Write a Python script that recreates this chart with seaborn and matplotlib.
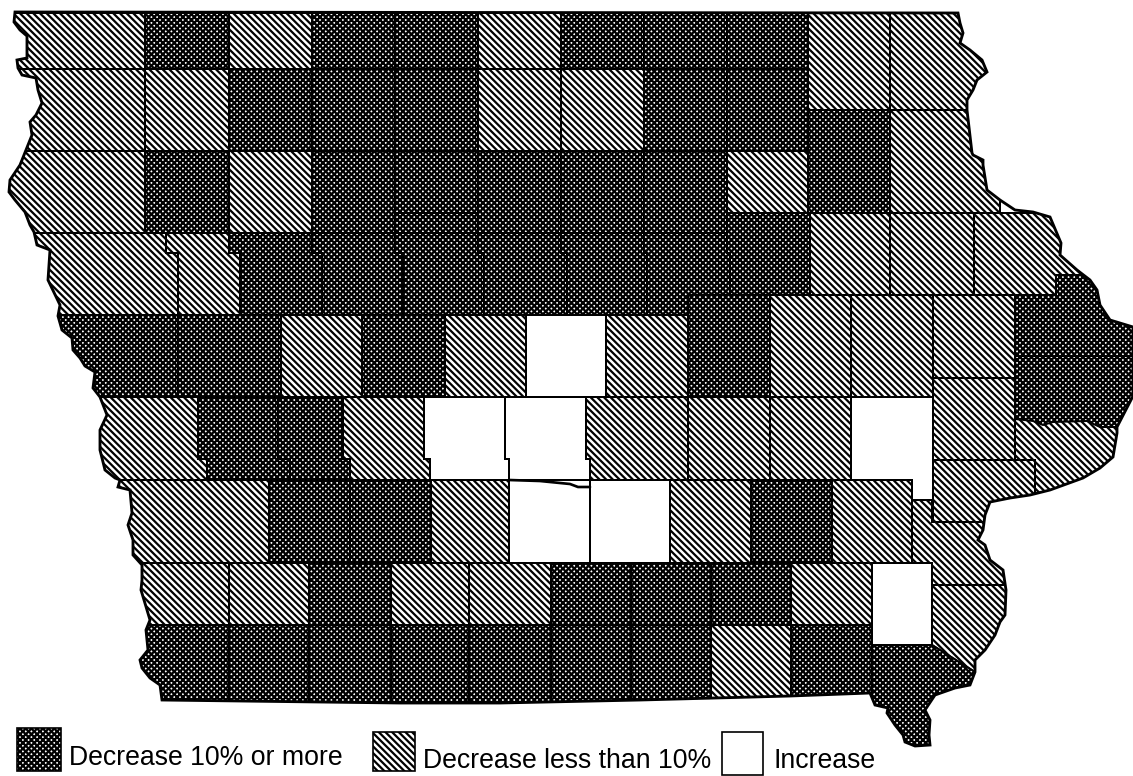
import seaborn as sns
import matplotlib.pyplot as plt
from matplotlib.patches import Polygon

sns.set_theme(style="white")
plt.rcParams['font.family'] = ['Liberation Sans', 'DejaVu Sans']
plt.rcParams['hatch.linewidth'] = 1.35

# state border, in picture pixels
outline_x = [15, 14, 20, 27, 27, 17, 18, 22, 36, 38, 42, 36, 30, 32, 26, 20, 10, 9, 15, 25, 30, 34,
             37, 50, 48, 60, 58, 62, 72, 73, 80, 85, 95, 93, 100, 107, 100, 100, 105, 115, 120, 118,
             130, 132, 128, 133, 133, 142, 142, 141, 144, 150, 146, 148, 140, 142, 150, 160, 162,
             400, 500, 640, 790, 870, 875, 888, 887, 895, 903, 905, 915, 930, 929, 930, 925, 935,
             955, 970, 975, 975, 985, 995, 1000, 1005, 1006, 1003, 990, 985, 978, 983, 985, 990,
             1010, 1030, 1050, 1083, 1100, 1113, 1117, 1117, 1133, 1133, 1110, 1100, 1097, 1090,
             1077, 1060, 1061, 1050, 1033, 1015, 1000, 987, 983, 983, 973, 972, 967, 967, 973, 977,
             987, 982, 970, 960, 963, 960, 958]
outline_y = [12, 22, 30, 36, 58, 60, 68, 75, 78, 90, 103, 115, 122, 135, 150, 165, 180, 192, 200, 212, 225, 232,
             245, 250, 280, 305, 316, 330, 338, 350, 358, 366, 372, 388, 397, 415, 430, 450, 470, 478, 480, 487,
             490, 513, 525, 540, 555, 565, 580, 590, 600, 620, 630, 650, 660, 668, 678, 685, 700,
             703, 703, 700, 696, 693, 705, 708, 713, 725, 735, 742, 746, 745, 735, 720, 710, 695,
             688, 685, 672, 660, 650, 635, 622, 615, 590, 570, 560, 545, 540, 530, 515, 502,
             498, 495, 490, 478, 468, 457, 433, 427, 396, 327, 320, 305, 290, 280,
             270, 255, 243, 217, 212, 210, 200, 190, 165, 160, 155, 153, 110, 100, 90, 80,
             72, 60, 50, 43, 33, 23, 13]

# D = decrease 10% or more, L = decrease less than 10%, W = increase
row_a_x = [0, 145, 229, 312, 395, 478, 561, 644, 727, 808]
row_a_cat = ['L', 'D', 'L', 'D', 'D', 'L', 'D', 'D', 'D']
row_a_east_x = [808, 890, 1000]
row_a_east_cat = ['L', 'L']
row_b_x = [0, 145, 229, 312, 395, 478, 561, 644, 727, 808]
row_b_cat = ['L', 'L', 'D', 'D', 'D', 'L', 'L', 'D', 'D']
row_b_east_x = [808, 890, 1000]
row_b_east_cat = ['D', 'L']
row_c_x = [0, 145, 229, 312, 395, 478, 561, 644, 727]
row_c_cat = ['L', 'D', 'L', 'D', 'D', 'D', 'D', 'D']
row_c_east_x = [727, 808]
row_c_east_cat = ['L']
row_c_strip_x = [395, 478]
row_c_strip_cat = ['D']
row_d_top_x = [0, 166, 229, 312, 395, 478, 561, 644, 727]
row_d_bot_x = [0, 178, 240, 322, 403, 484, 567, 647, 730]
row_d_cat = ['L', 'L', 'D', 'D', 'D', 'D', 'D', 'D']
row_d_mid_top_x = [727, 810]
row_d_mid_bot_x = [730, 810]
row_d_mid_cat = ['D']
row_d_east_x = [810, 890, 974, 1100]
row_d_east_cat = ['L', 'L', 'L']
row_e_x = [0, 178, 281, 362, 445, 526, 606, 688]
row_e_cat = ['D', 'D', 'L', 'D', 'L', 'W', 'L']
row_e_east_x = [688, 770, 851, 933]
row_e_east_cat = ['D', 'L', 'L']
row_f_top_x = [0, 198, 278, 343, 424, 505, 586, 688, 770, 851]
row_f_bot_x = [0, 207, 290, 350, 430, 509, 590, 688, 770, 851]
row_f_cat = ['L', 'D', 'D', 'L', 'W', 'W', 'L', 'L', 'L']
row_g_x = [0, 269, 350, 431, 509, 590, 670, 751, 832, 912]
row_g_cat = ['L', 'D', 'D', 'L', 'W', 'W', 'L', 'D', 'L']
row_h_x = [0, 229, 309, 391, 469, 551, 631, 711, 791, 872]
row_h_cat = ['L', 'L', 'D', 'L', 'L', 'D', 'D', 'D', 'L']
row_i_x = [0, 229, 309, 391, 469, 551, 631, 711, 791, 872]
row_i_cat = ['D', 'D', 'D', 'D', 'D', 'D', 'D', 'L', 'D']

# rivers that make the odd county borders
wapsi_x = [1015, 1033, 1043, 1053, 1087, 1100, 1117, 1140]
wapsi_y = [419, 421, 425, 422, 421, 427, 427, 427]
raccoon_x = [509, 540, 570, 578, 590]
raccoon_y = [480, 481, 484, 487, 487]
louisa_x = [912, 932, 932, 1010, 1010, 932, 932, 912]
louisa_y = [500, 500, 522, 522, 585, 585, 563, 563]
desmoines_x = [932, 1010, 1010, 975, 932]
desmoines_y = [585, 585, 672, 672, 645]
lee_x = [872, 932, 975, 1010, 1010, 872]
lee_y = [645, 645, 672, 672, 800, 800]

legend_labels = ['Decrease 10% or more', 'Decrease less than 10%', 'Increase']
legend_cat = ['D', 'L', 'W']
legend_box_x = [17, 373, 722]
legend_box_w = [44, 42, 41]
legend_box_y = [728, 732, 732]
legend_box_h = [43, 39, 43]
legend_text_x = [69, 423, 773]
legend_text_y = [765, 768, 768]

hatches = {'D': 'x' * 7, 'L': '\\' * 6, 'W': None}


def shape(ax, xs, ys, cat, clip=None, lw=1.2):
    p = Polygon(list(zip(xs, ys)), closed=True, facecolor='white', edgecolor='black',
                hatch=hatches[cat], linewidth=lw)
    ax.add_patch(p)
    if clip is not None:
        p.set_clip_path(clip)


def row(ax, top_x, bot_x, y0, jog, y1, cats, clip):
    for i, cat in enumerate(cats):
        xs = [top_x[i], top_x[i + 1], top_x[i + 1], bot_x[i + 1], bot_x[i + 1], bot_x[i], bot_x[i], top_x[i]]
        ys = [y0, y0, jog, jog, y1, y1, jog, jog]
        shape(ax, xs, ys, cat, clip)


fig = plt.figure(figsize=(1133 / 120, 776 / 120), dpi=120)
ax = fig.add_axes([0, 0, 1, 1])
ax.set_xlim(0, 1133)
ax.set_ylim(776, 0)
ax.axis('off')

state = Polygon(list(zip(outline_x, outline_y)), closed=True, facecolor='none', edgecolor='black',
                linewidth=1.7, zorder=5)
ax.add_patch(state)


def flat(xs, y0, y1, cats):
    row(ax, xs, xs, y0, y0, y1, cats, state)


flat(row_a_x, 13, 69, row_a_cat)
flat(row_a_east_x, 13, 110, row_a_east_cat)
flat(row_b_x, 69, 151, row_b_cat)
flat(row_b_east_x, 110, 213, row_b_east_cat)
flat(row_c_x, 151, 233, row_c_cat)
flat(row_c_east_x, 151, 213, row_c_east_cat)
flat(row_c_strip_x, 213, 233, row_c_strip_cat)
row(ax, row_d_top_x, row_d_bot_x, 233, 253, 315, row_d_cat, state)
row(ax, row_d_mid_top_x, row_d_mid_bot_x, 213, 253, 295, row_d_mid_cat, state)
flat(row_d_east_x, 213, 295, row_d_east_cat)
flat(row_e_x, 315, 397, row_e_cat)
flat(row_e_east_x, 295, 397, row_e_east_cat)
flat([933, 1015], 295, 378, ['L'])
flat([933, 1015], 378, 460, ['L'])

# Jones/Jackson corner and the Clinton strip under the river
row(ax, [1015, 1140], [1035, 1140], 400, 460, 540, ['L'], state)
row(ax, [1056, 1140], [1015, 1140], 275, 295, 356, ['D'], state)
shape(ax, [1015, 1140] + wapsi_x[::-1], [356, 356] + wapsi_y[::-1], 'D', state)

flat([851, 933], 397, 500, ['W'])
row(ax, row_f_top_x, row_f_bot_x, 397, 459, 480, row_f_cat, state)
flat(row_g_x, 480, 563, row_g_cat)
flat([933, 1035], 460, 522, ['L'])
shape(ax, louisa_x, louisa_y, 'L', state)
flat(row_h_x, 563, 625, row_h_cat)
flat(row_i_x, 625, 710, row_i_cat)
flat([872, 932], 563, 645, ['W'])
shape(ax, desmoines_x, desmoines_y, 'L', state)
shape(ax, lee_x, lee_y, 'D', state)
ax.plot(raccoon_x, raccoon_y, color='black', lw=1.6, zorder=4)

for i, label in enumerate(legend_labels):
    x0 = legend_box_x[i]
    y0 = legend_box_y[i]
    w = legend_box_w[i]
    h = legend_box_h[i]
    shape(ax, [x0, x0 + w, x0 + w, x0], [y0, y0, y0 + h, y0 + h], legend_cat[i], lw=1.0)
    ax.text(legend_text_x[i], legend_text_y[i], label, fontsize=16, color='black', va='baseline', ha='left')

fig.savefig('out.png', dpi=120)
